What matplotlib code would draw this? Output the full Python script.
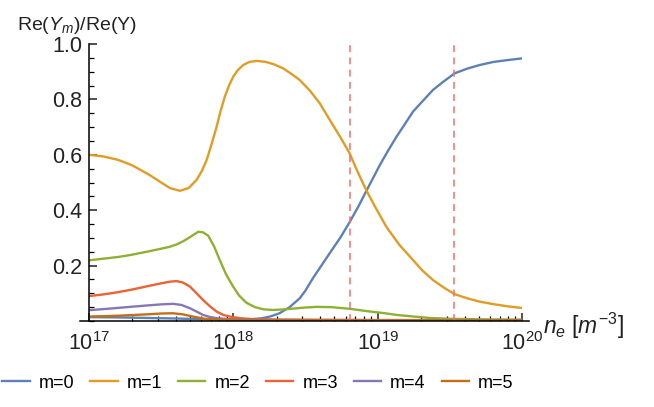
import numpy as np
import matplotlib
matplotlib.use('Agg')
import matplotlib.pyplot as plt
from matplotlib.ticker import LogLocator, MultipleLocator, NullFormatter

plt.rcParams['font.family'] = ['Liberation Sans', 'DejaVu Sans']
plt.rcParams['mathtext.fontset'] = 'custom'
plt.rcParams['mathtext.rm'] = 'Liberation Sans'
plt.rcParams['mathtext.it'] = 'Liberation Sans:italic'

# each series: log10(n_e) positions and Re(Y_m)/Re(Y) values
x_m0 = [17.0, 17.2, 17.4, 17.6, 17.8, 18.0, 18.1, 18.2, 18.26, 18.32, 18.39, 18.46, 18.5,
        18.552, 18.61, 18.668, 18.74, 18.806, 18.87, 18.92, 19.014, 19.07, 19.13, 19.19,
        19.245, 19.31, 19.383, 19.45, 19.533, 19.62, 19.706, 19.8, 19.9, 20.0]
m0 = [0.014, 0.013, 0.011, 0.009, 0.006, 0.004, 0.005, 0.010, 0.017, 0.028, 0.050, 0.082, 0.110,
      0.155, 0.200, 0.245, 0.300, 0.357, 0.417, 0.468, 0.562, 0.613, 0.665, 0.712,
      0.756, 0.793, 0.834, 0.862, 0.894, 0.911, 0.924, 0.935, 0.942, 0.948]

x_m1 = [17.0, 17.1, 17.2, 17.3, 17.42, 17.5, 17.56, 17.63, 17.69, 17.745, 17.78, 17.815, 17.85,
        17.884, 17.91, 17.941, 17.97, 17.999, 18.03, 18.068, 18.11, 18.16, 18.22, 18.28,
        18.345, 18.4, 18.46, 18.53, 18.6, 18.668, 18.74, 18.806, 18.86, 18.92, 18.99, 19.06,
        19.15, 19.245, 19.31, 19.383, 19.46, 19.533, 19.62, 19.706, 19.8, 19.9, 20.0]
m1 = [0.600, 0.594, 0.582, 0.562, 0.527, 0.500, 0.480, 0.470, 0.480, 0.509, 0.540, 0.581, 0.640,
      0.701, 0.755, 0.810, 0.850, 0.882, 0.905, 0.924, 0.935, 0.939, 0.936, 0.927,
      0.912, 0.893, 0.870, 0.832, 0.785, 0.726, 0.665, 0.605, 0.540, 0.473, 0.405, 0.340,
      0.275, 0.220, 0.182, 0.148, 0.120, 0.097, 0.082, 0.070, 0.061, 0.053, 0.047]

x_m2 = [17.0, 17.1, 17.2, 17.284, 17.4, 17.5, 17.56, 17.61, 17.653, 17.7, 17.757, 17.79, 17.826,
        17.866, 17.906, 17.95, 17.999, 18.04, 18.09, 18.15, 18.21, 18.27, 18.32, 18.4, 18.48,
        18.576, 18.68, 18.806, 18.95, 19.05, 19.13, 19.25, 19.36, 19.5, 19.7, 20.0]
m2 = [0.219, 0.225, 0.231, 0.238, 0.250, 0.261, 0.268, 0.277, 0.288, 0.303, 0.322, 0.320, 0.308,
      0.270, 0.220, 0.168, 0.124, 0.092, 0.066, 0.050, 0.042, 0.040, 0.041, 0.044, 0.048,
      0.051, 0.050, 0.044, 0.034, 0.028, 0.022, 0.016, 0.011, 0.008, 0.006, 0.005]

x_m3 = [17.0, 17.1, 17.2, 17.284, 17.4, 17.5, 17.56, 17.607, 17.65, 17.7, 17.745, 17.79, 17.84,
        17.884, 17.93, 17.976, 18.05, 18.13, 18.3, 18.6, 19.0, 20.0]
m3 = [0.090, 0.096, 0.104, 0.112, 0.125, 0.136, 0.142, 0.144, 0.139, 0.124, 0.100, 0.076, 0.052,
      0.034, 0.022, 0.016, 0.010, 0.007, 0.005, 0.004, 0.003, 0.003]

x_m4 = [17.0, 17.15, 17.284, 17.4, 17.5, 17.583, 17.64, 17.7, 17.745, 17.79, 17.84, 17.9, 18.0,
        18.3, 20.0]
m4 = [0.039, 0.045, 0.051, 0.056, 0.060, 0.062, 0.058, 0.046, 0.034, 0.022, 0.014, 0.009, 0.006,
      0.004, 0.003]

x_m5 = [17.0, 17.2, 17.4, 17.5, 17.58, 17.65, 17.72, 17.8, 17.9, 18.1, 20.0]
m5 = [0.016, 0.019, 0.024, 0.027, 0.028, 0.024, 0.016, 0.008, 0.005, 0.003, 0.002]

xs = [x_m0, x_m1, x_m2, x_m3, x_m4, x_m5]
series = [m0, m1, m2, m3, m4, m5]
labels = ['m=0', 'm=1', 'm=2', 'm=3', 'm=4', 'm=5']
colors = ['#5E81B5', '#E19C24', '#8FB032', '#EB6235', '#8778B3', '#C56E1A']
vlines = [6.4e18, 3.4e19]

fig = plt.figure(figsize=(6.54, 4.07), dpi=100)
ax = fig.add_axes([89/654, 1 - 321/407, (522 - 89)/654, (321 - 44)/407])

handles = []
for lx, ys, lab, c in zip(xs, series, labels, colors):
    h, = ax.plot(10 ** np.array(lx), ys, color=c, lw=1.7, label=lab)
    handles.append(h)

for v in vlines:
    ax.plot([v, v], [0, 1.0], color='#F07070', lw=1.1, dashes=(4.5, 3.5))

ax.set_xscale('log')
ax.set_xlim(1e17, 1e20)
ax.set_ylim(0, 1.0)

for s in ['top', 'right']:
    ax.spines[s].set_visible(False)
for s in ['left', 'bottom']:
    ax.spines[s].set_linewidth(1.1)
ax.spines['bottom'].set_bounds(10 ** 16.94, 10 ** 20.05)

ax.xaxis.set_major_locator(LogLocator(base=10, numticks=10))
ax.xaxis.set_minor_locator(LogLocator(base=10, subs=np.arange(2, 10), numticks=20))
ax.xaxis.set_minor_formatter(NullFormatter())
ax.yaxis.set_minor_locator(MultipleLocator(0.05))
ax.set_yticks([0.2, 0.4, 0.6, 0.8, 1.0])
ax.set_yticklabels(['0.2', '0.4', '0.6', '0.8', '1.0'])

ax.tick_params(axis='both', which='major', direction='in', length=6, width=1.1,
               labelsize=15.5, colors='#222222')
ax.tick_params(axis='both', which='minor', direction='in', length=3.5, width=0.9)
ax.tick_params(axis='x', which='major', pad=8)
ax.tick_params(axis='y', which='major', pad=5)

fig.text(17/654, 1 - 30/407, 'Re($Y_m$)/Re(Y)', fontsize=14, color='#222222',
         ha='left', va='baseline')
fig.text(543/654, 1 - 326/407, '$n_e$ [$m^{-3}$]', fontsize=16.5, color='#222222',
         ha='left', va='center')

fig.legend(handles=handles, loc='center', bbox_to_anchor=(258/654, 1 - 383/407),
           ncol=6, frameon=False, fontsize=13, handlelength=1.5, handletextpad=0.5,
           columnspacing=0.9)

fig.savefig('out.png', dpi=100)
